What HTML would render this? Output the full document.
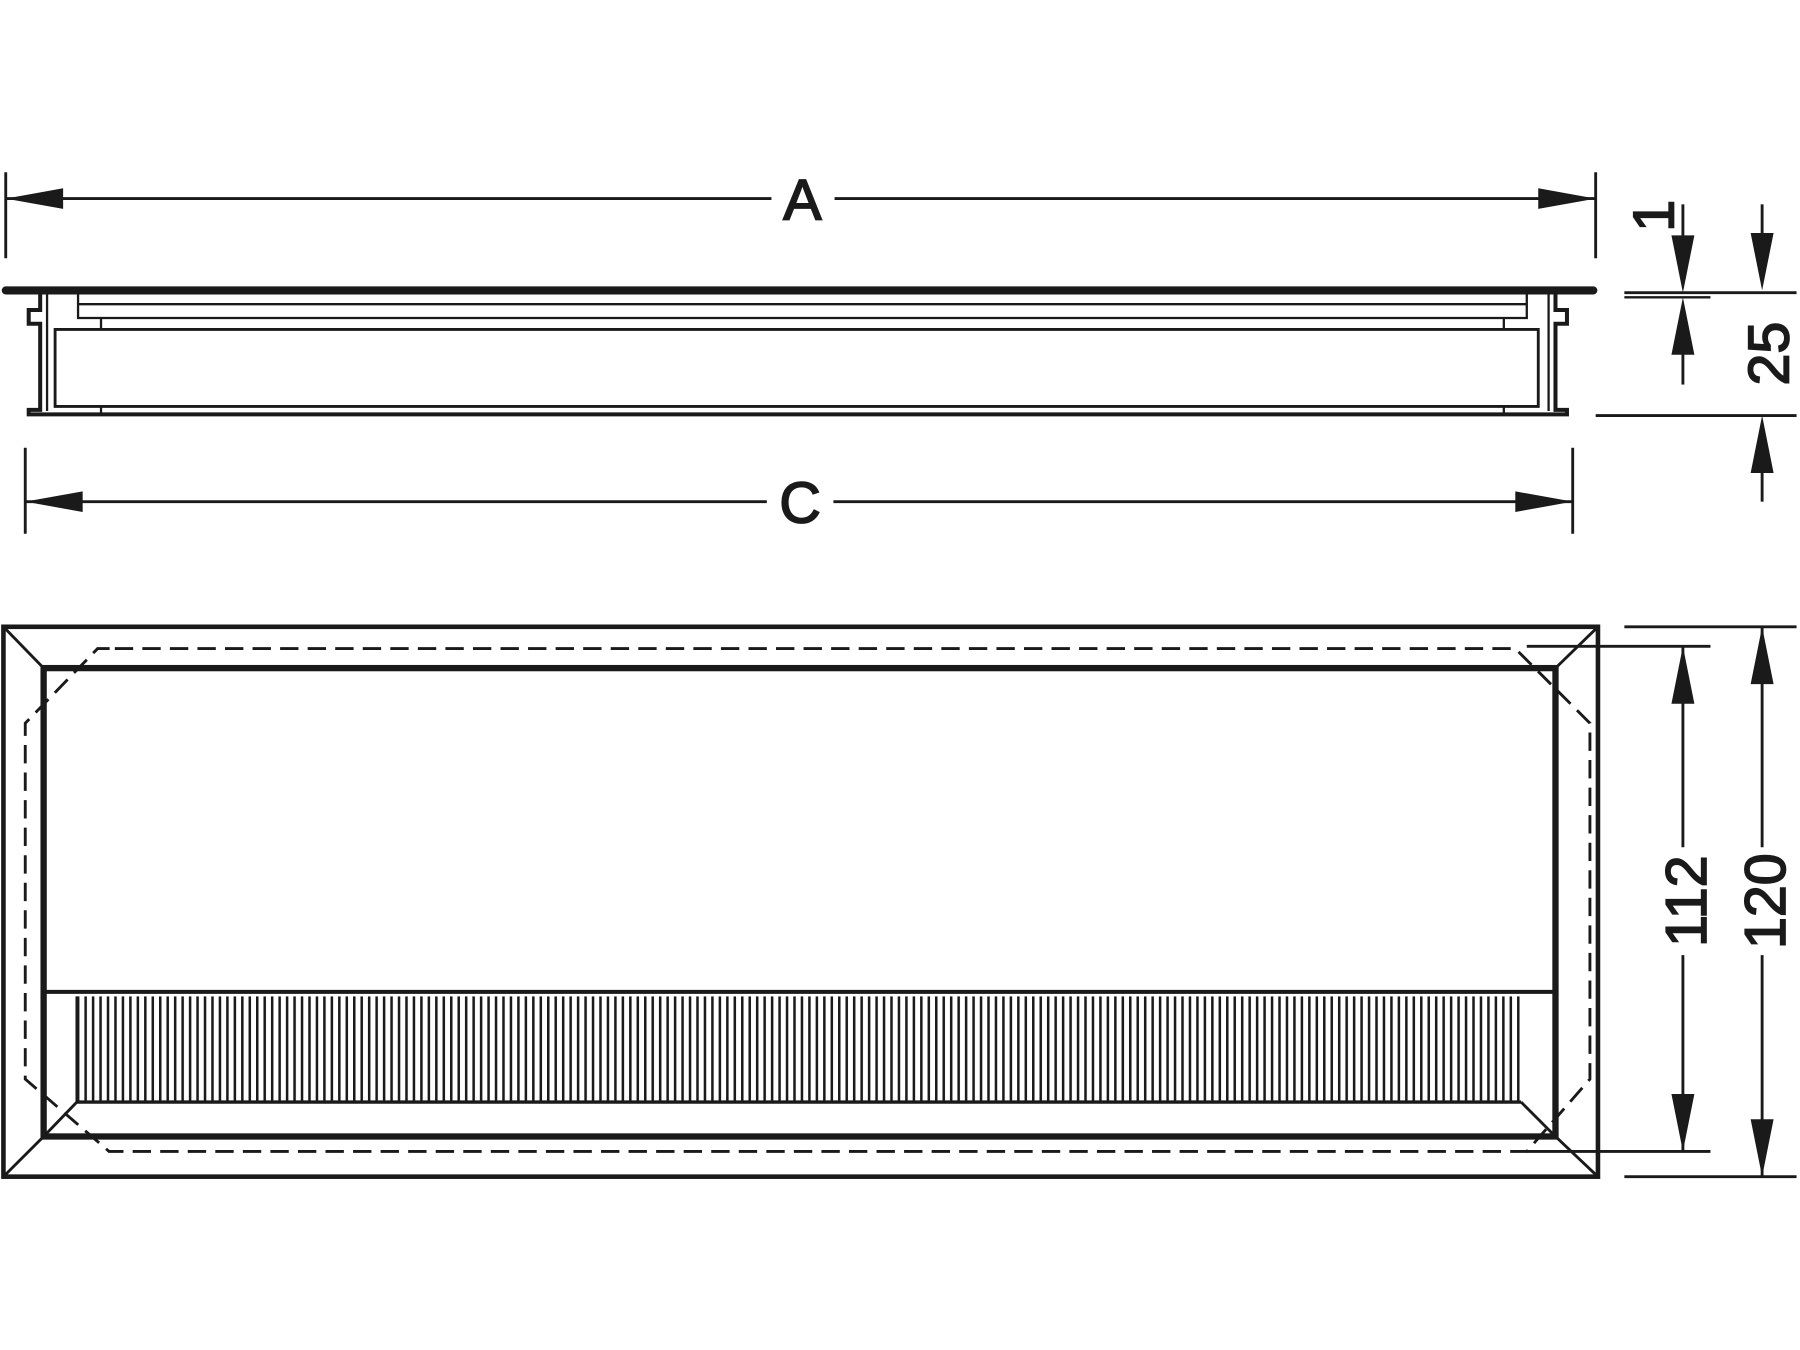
<!DOCTYPE html>
<html><head><meta charset="utf-8"><style>html,body{margin:0;padding:0;background:#fff}svg{display:block}</style></head>
<body>
<svg width="1800" height="1350" viewBox="0 0 1568 1176" xmlns="http://www.w3.org/2000/svg" font-family="Liberation Sans, sans-serif">
<defs>
<pattern id="br" x="67" y="0" width="6.5" height="10" patternUnits="userSpaceOnUse">
<rect x="0" y="0" width="2.2" height="10" fill="#1a1a1a"/>
</pattern>
</defs>
<g stroke="#1a1a1a" fill="none">
<line x1="5" y1="150" x2="5" y2="225" stroke-width="2.5"/>
<line x1="1390" y1="150" x2="1390" y2="225" stroke-width="2.5"/>
<line x1="5" y1="173" x2="672" y2="173" stroke-width="2.5"/>
<line x1="727" y1="173" x2="1390" y2="173" stroke-width="2.5"/>
<line x1="5" y1="253" x2="1388" y2="253" stroke-width="7" stroke-linecap="round"/>
<path d="M35 256 V270 H25 V282 H35 V357 H25 V361 H1365 V357 H1355 V282 H1365 V270 H1355 V256" stroke-width="3.5"/>
<line x1="41" y1="256" x2="41" y2="358" stroke-width="2"/>
<line x1="1349" y1="256" x2="1349" y2="358" stroke-width="2"/>
<path d="M68 256 V277 H1330 V256" stroke-width="2"/>
<line x1="68" y1="265" x2="1330" y2="265" stroke-width="2"/>
<path d="M88 277 V287 M1310 277 V287" stroke-width="2"/>
<path d="M88 287 H1340 V354 H48 V287 H88" stroke-width="2.5"/>
<path d="M88 354 V361 M1310 354 V361" stroke-width="2"/>
<line x1="22" y1="390" x2="22" y2="465" stroke-width="2.5"/>
<line x1="1370" y1="390" x2="1370" y2="465" stroke-width="2.5"/>
<line x1="22" y1="437" x2="668" y2="437" stroke-width="2.5"/>
<line x1="726" y1="437" x2="1370" y2="437" stroke-width="2.5"/>
<line x1="1415" y1="255" x2="1565" y2="255" stroke-width="2.5"/>
<line x1="1415" y1="259" x2="1490" y2="259" stroke-width="2"/>
<line x1="1390" y1="362" x2="1565" y2="362" stroke-width="2.5"/>
<line x1="1466" y1="178" x2="1466" y2="220" stroke-width="2.5"/>
<line x1="1466" y1="290" x2="1466" y2="335" stroke-width="2.5"/>
<line x1="1535" y1="178" x2="1535" y2="220" stroke-width="2.5"/>
<line x1="1535" y1="395" x2="1535" y2="437" stroke-width="2.5"/>
<rect x="3" y="546" width="1389" height="479" stroke-width="4"/>
<rect x="38" y="582" width="1317" height="408" stroke-width="5.5"/>
<path d="M3 546 L38 582 M1392 546 L1355 582 M3 1025 L38 990 M1392 1025 L1355 990" stroke-width="2.5"/>
<path d="M100 565 H1320 L1385 630 V940 L1330 1003 H95 L22 940 V630 L85 565 Z" stroke-width="2.5" stroke-dasharray="16 8"/>
<line x1="38" y1="864" x2="1355" y2="864" stroke-width="3.5"/>
<line x1="67" y1="960" x2="1325" y2="960" stroke-width="3"/>
<path d="M38 990 L67 960 M1355 990 L1325 960" stroke-width="2.5"/>
<rect x="67" y="868" width="1258" height="92" fill="url(#br)" stroke="none"/>
<line x1="67" y1="868" x2="67" y2="960" stroke-width="2.5"/>
<line x1="1330" y1="563" x2="1490" y2="563" stroke-width="2.5"/>
<line x1="1330" y1="1003" x2="1490" y2="1003" stroke-width="2.5"/>
<line x1="1415" y1="546" x2="1565" y2="546" stroke-width="2.5"/>
<line x1="1415" y1="1025" x2="1565" y2="1025" stroke-width="2.5"/>
<line x1="1466" y1="563" x2="1466" y2="738" stroke-width="2.5"/>
<line x1="1466" y1="832" x2="1466" y2="1003" stroke-width="2.5"/>
<line x1="1535" y1="546" x2="1535" y2="738" stroke-width="2.5"/>
<line x1="1535" y1="832" x2="1535" y2="1025" stroke-width="2.5"/>
</g>
<g fill="#1a1a1a">
<polygon points="5,173 55,164 55,182"/>
<polygon points="1390,173 1340,164 1340,182"/>
<polygon points="22,437 72,428 72,446"/>
<polygon points="1370,437 1320,428 1320,446"/>
<polygon points="1466,255 1456,205 1476,205"/>
<polygon points="1466,259 1456,309 1476,309"/>
<polygon points="1535,253 1525,203 1545,203"/>
<polygon points="1535,362 1525,412 1545,412"/>
<polygon points="1466,563 1456,613 1476,613"/>
<polygon points="1466,1003 1456,953 1476,953"/>
<polygon points="1535,546 1525,596 1545,596"/>
<polygon points="1535,1025 1525,975 1545,975"/>
</g>
<g fill="#1a1a1a" stroke="#1a1a1a" stroke-width="1.5" font-size="50" text-anchor="middle">
<text x="699" y="191">A</text>
<text x="697" y="455">C</text>
<text transform="translate(1458,188) rotate(-90)" text-anchor="middle">1</text>
<text transform="translate(1558,308) rotate(-90)" text-anchor="middle">25</text>
<text transform="translate(1486,785) rotate(-90)" text-anchor="middle">112</text>
<text transform="translate(1555,785) rotate(-90)" text-anchor="middle">120</text>
</g>
</svg>
</body></html>
